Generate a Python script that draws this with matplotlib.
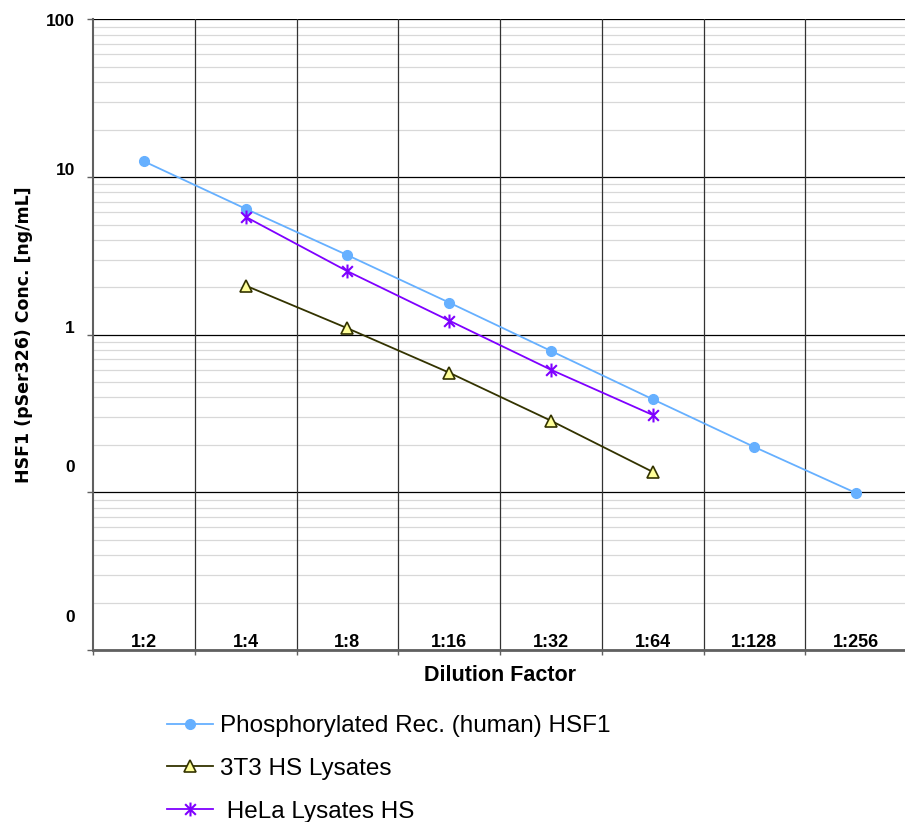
import numpy as np
import matplotlib.pyplot as plt
import matplotlib.transforms as mtransforms
from matplotlib.path import Path
from matplotlib.ticker import LogLocator, NullFormatter

# Values (ng/mL, log scale)
dilutions = ["1:2", "1:4", "1:8", "1:16", "1:32", "1:64", "1:128", "1:256"]
phos_rec = [12.6, 6.3, 3.2, 1.6, 0.79, 0.39, 0.194, 0.099]
lys_3t3 = [np.nan, 2.05, 1.1, 0.575, 0.285, 0.135, np.nan, np.nan]
lys_hela = [np.nan, 5.6, 2.53, 1.23, 0.6, 0.31, np.nan, np.nan]
series_names = ["Phosphorylated Rec. (human) HSF1", "3T3 HS Lysates", " HeLa Lysates HS"]
ytick_vals = [0.01, 0.1, 1, 10, 100]
ytick_labels = ["0", "0", "1", "10", "100"]

fig = plt.figure(figsize=(9.05, 8.22), dpi=100)
ax = fig.add_axes([93/905, 1 - 650/822, 814/905, 630.5/822])

x = np.arange(len(dilutions))

# Excel-like asterisk marker: an x plus a vertical bar
star = Path([(-1, -1), (1, 1), (-1, 1), (1, -1), (0, -1.3), (0, 1.3)],
            [Path.MOVETO, Path.LINETO, Path.MOVETO, Path.LINETO, Path.MOVETO, Path.LINETO])

ax.plot(x, phos_rec, color="#66b0ff", lw=1.3, marker="o", ms=7,
        mfc="#66b0ff", mec="#66b0ff", label=series_names[0], zorder=3)
ax.plot(x, lys_3t3, color="#333300", lw=1.3, marker="^", ms=8.5,
        mfc="#ffff99", mec="#333300", mew=1.2, label=series_names[1], zorder=3)
ax.plot(x, lys_hela, color="#7f00ff", lw=1.3, marker=star, ms=10,
        mfc="none", mec="#7f00ff", mew=1.5, label=series_names[2], zorder=3)

ax.set_yscale("log")
ax.set_ylim(0.01, 100)
ax.set_xlim(-0.5, len(dilutions) - 0.5)

ax.set_yticks(ytick_vals)
ax.set_yticklabels(ytick_labels, fontfamily="Liberation Sans", fontweight="bold", fontsize=12.5)
ax.yaxis.set_minor_locator(LogLocator(base=10, subs=range(2, 10)))
ax.yaxis.set_minor_formatter(NullFormatter())
ax.tick_params(axis="y", which="major", direction="out", length=4, width=1, color="#606060", pad=9)
ax.tick_params(axis="y", which="minor", length=0)

bounds = np.arange(len(dilutions) + 1) - 0.5
ax.set_xticks(x)
ax.set_xticklabels(dilutions, fontfamily="Liberation Sans", fontweight="bold", fontsize=13)
ax.set_xticks(bounds, minor=True)
ax.tick_params(axis="x", which="major", length=0, pad=-11.2)
ax.tick_params(axis="x", which="minor", direction="out", length=3.5, width=1, color="#606060")

ax.grid(True, axis="y", which="major", color="black", lw=0.9, zorder=1)
ax.grid(True, axis="y", which="minor", color="#d8d8d8", lw=0.9, zorder=0.5)
# category separators drawn above the light minor lines
for b in bounds[1:]:
    ax.axvline(b, color="#333333", lw=0.9, zorder=1.5)
ax.set_axisbelow(True)

ax.spines["top"].set_visible(False)
ax.spines["right"].set_visible(False)
ax.spines["left"].set_color("#606060")
ax.spines["left"].set_linewidth(1.5)
ax.spines["bottom"].set_color("#606060")
ax.spines["bottom"].set_linewidth(2)

ax.set_ylabel("HSF1 (pSer326) Conc. [ng/mL]", fontfamily="DejaVu Sans",
              fontweight="bold", fontsize=12.5)
ax.yaxis.set_label_coords(-0.074, 0.5)
ax.set_xlabel("Dilution Factor", fontfamily="Liberation Sans", fontweight="bold", fontsize=15.5)
ax.xaxis.set_label_coords(0.5, -0.024)

# y tick labels in the reference sit above their gridlines by varying amounts
offsets_px = [34, 26, 8, 8, 0]
for lab, dy in zip(ax.get_yticklabels(), offsets_px):
    shift = mtransforms.ScaledTranslation(0, dy / 100, fig.dpi_scale_trans)
    lab.set_transform(lab.get_transform() + shift)

fig.legend(loc="upper left", bbox_to_anchor=(167/905, 1 - 715/822), frameon=False,
           prop={"family": "Liberation Sans", "size": 17.5}, handlelength=1.9,
           handletextpad=0.3, labelspacing=0.86, borderpad=0, borderaxespad=0)

fig.savefig("out.png", dpi=100)
